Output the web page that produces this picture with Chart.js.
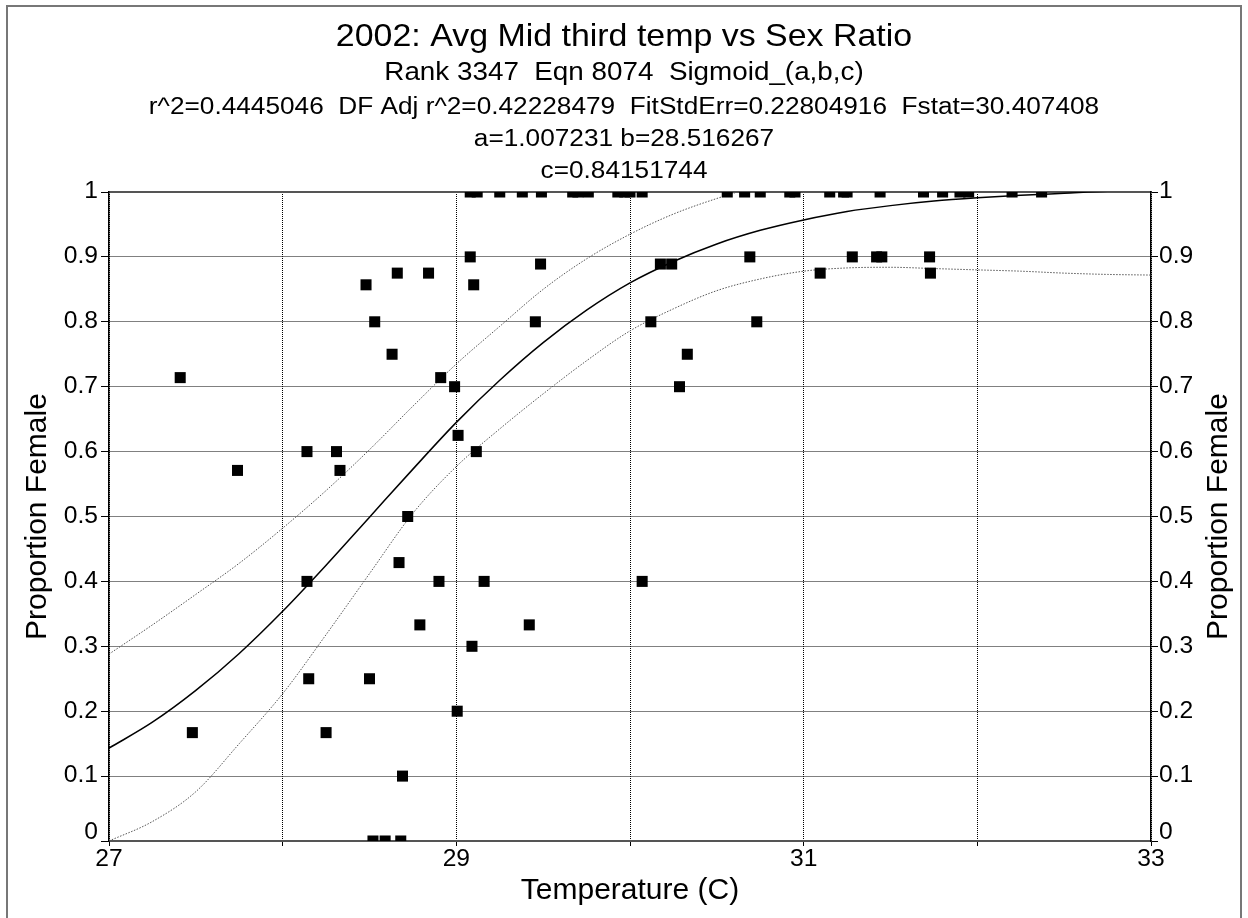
<!DOCTYPE html>
<html>
<head>
<meta charset="utf-8">
<title>2002: Avg Mid third temp vs Sex Ratio</title>
<script src="https://cdn.jsdelivr.net/npm/chart.js@4.4.1/dist/chart.umd.min.js"></script>
<style>
  html, body { margin: 0; padding: 0; background: #fff; }
  #wrap { width: 1248px; height: 918px; }
</style>
</head>
<body>
<div id="wrap"><canvas id="chart" width="1248" height="918"></canvas></div>
<script>
// --------- Data ---------
const HEADER_TEXT = [
    "2002: Avg Mid third temp vs Sex Ratio",
    "Rank 3347  Eqn 8074  Sigmoid_(a,b,c)",
    "r^2=0.4445046  DF Adj r^2=0.42228479  FitStdErr=0.22804916  Fstat=30.407408",
    "a=1.007231 b=28.516267",
    "c=0.84151744",
];
const X_TITLE = "Temperature (C)";
const Y_TITLE = "Proportion Female";
const X_TICK_LABELS = [27, 29, 31, 33];
const Y_TICK_LABELS = ["0", "0.1", "0.2", "0.3", "0.4", "0.5", "0.6", "0.7", "0.8", "0.9", "1"];

// clutches that came out all female (proportion = 1)
const allFemaleTemps = [
    29.08, 29.12, 29.25, 29.38, 29.49, 29.67, 29.70, 29.76, 29.93, 29.97,
    30.00, 30.07, 30.56, 30.66, 30.75, 30.92, 30.95, 31.15, 31.23, 31.25,
    31.44, 31.69, 31.80, 31.90, 31.95, 32.20, 32.37,
];

// the remaining clutches
const mixedTemps = [
    27.41, 27.48, 27.74, 28.14, 28.14, 28.15, 28.25, 28.31, 28.33, 28.48,
    28.50, 28.52, 28.53, 28.59, 28.63, 28.66, 28.67, 28.68, 28.69, 28.72,
    28.79, 28.84, 28.90, 28.91, 28.99, 29.005, 29.01, 29.08, 29.09, 29.10,
    29.115, 29.16, 29.42, 29.455, 29.485, 30.07, 30.12, 30.175, 30.24, 30.285,
    30.33, 30.69, 30.73, 31.095, 31.28, 31.42, 31.45, 31.725, 31.73,
];
const mixedProps = [
    0.714, 0.167, 0.571, 0.600, 0.400, 0.250, 0.167, 0.600, 0.571, 0.857,
    0.250, 0.000, 0.800, 0.000, 0.750, 0.875, 0.429, 0.000, 0.100, 0.500,
    0.333, 0.875, 0.400, 0.714, 0.700, 0.200, 0.625, 0.900, 0.300, 0.857,
    0.600, 0.400, 0.333, 0.800, 0.889, 0.400, 0.800, 0.889, 0.889, 0.700,
    0.750, 0.900, 0.800, 0.875, 0.900, 0.900, 0.900, 0.900, 0.875,
];

// fitted sigmoid and the two dotted bands, read at 0.25 C steps
const curveTemps = [
    27, 27.25, 27.5, 27.75, 28, 28.25, 28.5, 28.75, 29, 29.25, 29.5, 29.75,
    30, 30.25, 30.5, 30.75, 31, 31.25, 31.5, 31.75, 32, 32.25, 32.5, 32.75, 33,
];
const fitProps = [
    0.143, 0.183, 0.232, 0.289, 0.354, 0.425, 0.499, 0.573, 0.645, 0.710, 0.768, 0.818,
    0.860, 0.893, 0.920, 0.941, 0.957, 0.970, 0.979, 0.986, 0.991, 0.995, 0.998, 1.001, 1.002,
];
const upperProps = [
    0.288, 0.333, 0.380, 0.428, 0.482, 0.540, 0.603, 0.670, 0.735, 0.793, 0.850, 0.897,
    0.935, 0.966, 0.990, 1.010, 1.025,
];
const lowerProps = [
    0.000, 0.030, 0.076, 0.150, 0.227, 0.318, 0.412, 0.505, 0.577, 0.635, 0.689, 0.740,
    0.786, 0.820, 0.848, 0.866, 0.878, 0.883, 0.884, 0.882, 0.880, 0.878, 0.875, 0.873, 0.872,
];

// --------- Helpers ---------
const FONT = '"Liberation Sans", Arial, sans-serif';
Chart.defaults.font.family = FONT;
Chart.defaults.color = "#000";

function pairs(xs, ys) {
    return xs.map((x, i) => ({ x, y: typeof ys === "number" ? ys : ys[i] }));
}

// header lines: [size px, centre y, horizontal stretch]
const HEADER_STYLE = [
    [32, 37, 1.06],
    [26, 73, 1.07],
    [23, 108, 1.14],
    [23, 140, 1.14],
    [23, 172, 1.14],
];
const TICK_STRETCH = 1.07;

// text drawn with a slight horizontal stretch, like the original's wide Arial
function stretchedText(ctx, text, x, y, sx) {
    ctx.save();
    ctx.translate(x, y);
    ctx.scale(sx, 1);
    ctx.fillText(text, 0, 0);
    ctx.restore();
}

const decorPlugin = {
    id: "decor",
    beforeDraw(chart) {
        const ctx = chart.ctx;
        ctx.save();
        ctx.fillStyle = "#fff";
        ctx.fillRect(0, 0, chart.width, chart.height);
        ctx.strokeStyle = "#777";
        ctx.lineWidth = 2;
        ctx.strokeRect(7, 6, chart.width - 14, chart.height + 20);
        ctx.restore();
    },
    afterDraw(chart) {
        const ctx = chart.ctx;
        ctx.save();
        ctx.fillStyle = "#000";
        ctx.textBaseline = "middle";

        // header block
        ctx.textAlign = "center";
        HEADER_TEXT.forEach((t, i) => {
            const [size, y, sx] = HEADER_STYLE[i];
            ctx.font = size + "px " + FONT;
            stretchedText(ctx, t, chart.width / 2, y, sx);
        });

        // y tick labels on both sides; "0" sits up against the axis
        ctx.font = "23px " + FONT;
        const yl = chart.scales.y;
        const yr = chart.scales.y2;
        yl.ticks.forEach((tk, i) => {
            let py = yl.getPixelForValue(tk.value);
            if (tk.value === 0) py -= 8;
            const label = Y_TICK_LABELS[i];
            ctx.textAlign = "right";
            stretchedText(ctx, label, yl.right - 11, py, TICK_STRETCH);
            ctx.textAlign = "left";
            stretchedText(ctx, label, yr.left + 8, py, TICK_STRETCH);
        });

        // x tick labels, only on the odd degrees
        const xs = chart.scales.x;
        ctx.textAlign = "center";
        X_TICK_LABELS.forEach((v) => {
            stretchedText(ctx, String(v), xs.getPixelForValue(v), xs.top + 19, TICK_STRETCH);
        });

        // right-hand axis title reads bottom to top, like the left one
        const area = chart.chartArea;
        ctx.translate(1219, (area.top + area.bottom) / 2);
        ctx.rotate(-Math.PI / 2);
        ctx.font = "30px " + FONT;
        ctx.fillText(Y_TITLE, 0, 0);
        ctx.restore();
    },
};

new Chart(document.getElementById("chart"), {
    type: "scatter",
    data: {
        datasets: [
            {
                label: "all female",
                data: pairs(allFemaleTemps, 1),
                pointStyle: "rect",
                pointRadius: 7.8,
                backgroundColor: "#000",
                borderWidth: 0,
                order: 0,
            },
            {
                label: "mixed",
                data: pairs(mixedTemps, mixedProps),
                pointStyle: "rect",
                pointRadius: 7.8,
                backgroundColor: "#000",
                borderWidth: 0,
                order: 0,
            },
            {
                label: "fit",
                data: pairs(curveTemps, fitProps),
                showLine: true,
                pointRadius: 0,
                borderColor: "#000",
                borderWidth: 1.5,
                cubicInterpolationMode: "monotone",
                order: 1,
            },
            {
                label: "upper",
                data: pairs(curveTemps.slice(0, upperProps.length), upperProps),
                showLine: true,
                pointRadius: 0,
                borderColor: "#555",
                borderWidth: 1,
                borderDash: [1.5, 1.5],
                cubicInterpolationMode: "monotone",
                order: 1,
            },
            {
                label: "lower",
                data: pairs(curveTemps, lowerProps),
                showLine: true,
                pointRadius: 0,
                borderColor: "#555",
                borderWidth: 1,
                borderDash: [1.5, 1.5],
                cubicInterpolationMode: "monotone",
                order: 1,
            },
        ],
    },
    options: {
        responsive: false,
        animation: false,
        devicePixelRatio: 1,
        events: [],
        layout: { padding: { top: 192, left: 0, right: 0, bottom: 0 } },
        plugins: {
            legend: { display: false },
            tooltip: { enabled: false },
            title: { display: false },
        },
        scales: {
            x: {
                type: "linear",
                position: "bottom",
                min: 27,
                max: 33,
                afterFit: (s) => { s.height = 77; },
                ticks: { stepSize: 1, autoSkip: false, display: false },
                grid: { color: "#000", lineWidth: 1, tickLength: 5, tickColor: "#000" },
                border: { color: "#555", width: 2, dash: [1, 1] },
                title: {
                    display: true,
                    text: X_TITLE,
                    font: { size: 30 },
                    padding: { top: 0, bottom: 9 },
                },
            },
            x2: {
                type: "linear",
                position: "top",
                min: 27,
                max: 33,
                afterFit: (s) => { s.height = 0; },
                ticks: { display: false },
                grid: { display: false, drawTicks: false },
                border: { color: "#555", width: 2 },
            },
            y: {
                type: "linear",
                position: "left",
                min: 0,
                max: 1,
                afterFit: (s) => { s.width = 109; },
                ticks: { stepSize: 0.1, display: false },
                grid: { color: "#000", lineWidth: 1, tickLength: 8, tickColor: "#000" },
                border: { color: "#000", width: 1.5, dash: [1, 1] },
                title: {
                    display: true,
                    text: Y_TITLE,
                    font: { size: 30 },
                    padding: { top: 20, bottom: 0 },
                },
            },
            y2: {
                type: "linear",
                position: "right",
                min: 0,
                max: 1,
                afterFit: (s) => { s.width = 97; },
                ticks: { stepSize: 0.1, display: false },
                grid: { drawOnChartArea: false, tickLength: 7, tickColor: "#000" },
                border: { color: "#000", width: 1.5 },
            },
        },
    },
    plugins: [decorPlugin],
});
</script>
</body>
</html>
